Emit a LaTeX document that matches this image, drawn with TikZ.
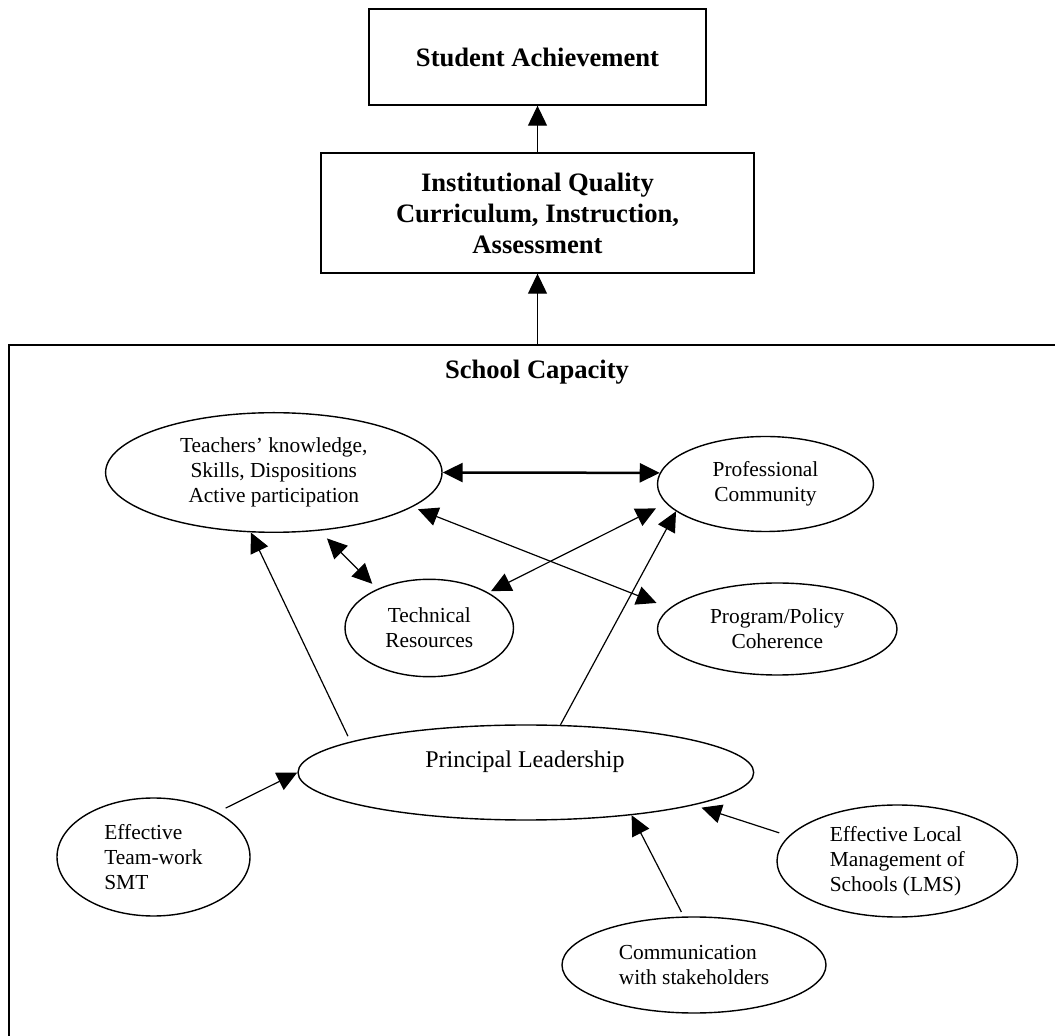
\documentclass[tikz,border=0pt]{standalone}
\usepackage{fontspec}
\setmainfont{Liberation Serif}
\usetikzlibrary{arrows.meta,shapes.geometric}

\begin{document}
\begin{tikzpicture}[x=0.5pt,y=-0.5pt,
        box/.style={draw,line width=0.7pt,inner sep=0pt,align=center,font=\fontsize{13.3}{15.5}\selectfont\bfseries},
        oval/.style={draw,ellipse,line width=0.7pt,inner sep=0pt,font=\fontsize{10.7}{12.6}\selectfont},
        link/.style={line width=0.6pt,-{Triangle[length=10pt,width=9.5pt]}},
        both/.style={line width=0.6pt,{Triangle[length=10pt,width=9.5pt]}-{Triangle[length=10pt,width=9.5pt]}}]
        \useasboundingbox (0,0) rectangle (1055,1036);
        \clip (0,0) rectangle (1055,1036);
        % Outcome boxes
        \node[box,minimum width=168.5pt,minimum height=48pt] (achieve) at (537.5,57) {Student Achievement};
        \node[box,minimum width=216.5pt,minimum height=60pt] (quality) at (537.5,213) {Institutional Quality\\Curriculum, Instruction,\\Assessment};
        \draw[link] (quality.north) -- (achieve.south);
        % School capacity frame
        \draw[line width=0.75pt] (9,345) rectangle (1080,1060);
        \coordinate (captop) at (537.5,345);
        \draw[link] (captop) -- (quality.south);
        \node[font=\fontsize{13.3}{15.5}\selectfont\bfseries] (capacity) at (537,372) {School Capacity};
        % Capacity ovals
        \node[oval,minimum width=168.2pt,minimum height=59.8pt,align=center] (teach) at (273.8,472.5) {Teachers’ knowledge,\\Skills, Dispositions\\Active participation};
        \node[oval,minimum width=108pt,minimum height=47.5pt,align=center] (prof) at (765.5,484) {Professional\\Community};
        \node[oval,minimum width=84.25pt,minimum height=48.7pt,align=center] (tech) at (429.25,628) {Technical\\Resources};
        \node[oval,minimum width=119.75pt,minimum height=46pt,align=center] (policy) at (777.25,629) {Program/Policy\\Coherence};
        \node[oval,minimum width=227.85pt,minimum height=47.5pt] (lead) at (525.85,772.5) {};
        \node[font=\fontsize{12}{14}\selectfont] (leadname) at (525,762) {Principal Leadership};
        \node[oval,minimum width=96.5pt,minimum height=59pt,align=left] (team) at (153.5,857) {Effective\\Team-work\\SMT};
        \node[oval,minimum width=120.25pt,minimum height=56pt,align=left] (lms) at (897.25,861) {Effective Local\\Management of\\Schools (LMS)};
        \node[oval,minimum width=132pt,minimum height=48pt,align=left] (comm) at (694,965) {Communication\\with stakeholders};
        % Links among capacities
        \draw[both,line width=1.25pt] (teach.east) -- (prof.174);
        \draw[both,shorten <=5.4pt,shorten >=3.6pt] (teach.308) -- (tech.143);
        \draw[both,shorten <=3pt,shorten >=7pt] (teach.346) -- (policy.169);
        \draw[both,shorten <=1.5pt,shorten >=5.6pt] (tech.31) -- (prof.191);
        % Leadership links
        \draw[link,shorten <=3pt] (lead.170) -- (teach.249);
        \draw[link] (lead.54) -- (prof.197);
        \draw[link,shorten <=4.5pt] (team.35) -- (lead.180);
        \draw[link,shorten <=5pt,shorten >=4pt] (lms.167) -- (lead.349);
        \draw[link,shorten <=2.5pt] (comm.102) -- (lead.338);
    \end{tikzpicture}
\end{document}
